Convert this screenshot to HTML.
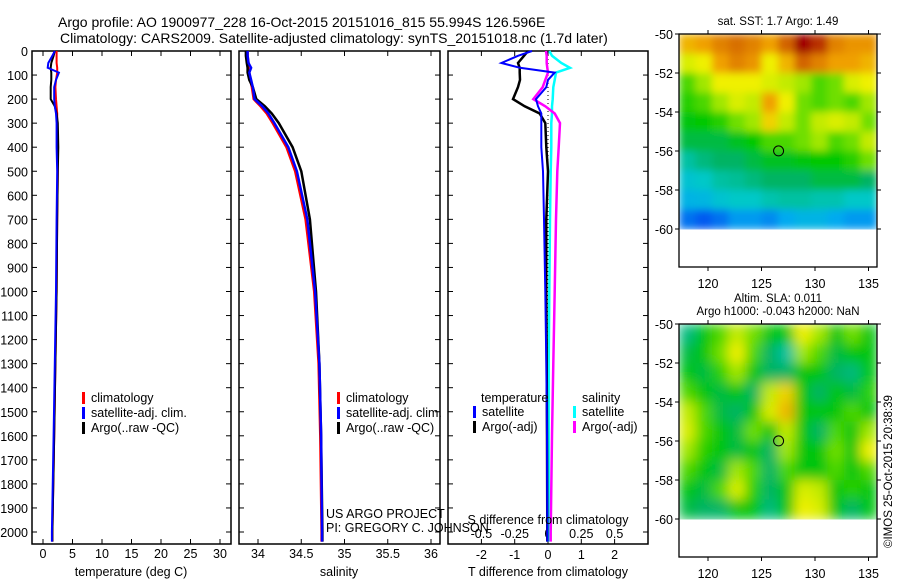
<!DOCTYPE html>
<html><head><meta charset="utf-8"><style>
body{margin:0;background:#fff}
svg{display:block;font-family:"Liberation Sans",sans-serif}
text{font-size:12.5px;fill:#000}
</style></head><body>
<svg id="c" width="900" height="580" viewBox="0 0 900 580">
<defs>
<filter id="blur1" x="0" y="0" width="1" height="1"><feGaussianBlur stdDeviation="4" edgeMode="duplicate"/></filter>
<filter id="blur2" x="0" y="0" width="1" height="1"><feGaussianBlur stdDeviation="6" edgeMode="duplicate"/></filter>
</defs>
<text x="58" y="27" style="font-size:14px">Argo profile: AO 1900977_228 16-Oct-2015 20151016_815 55.994S 126.596E</text>
<text x="60" y="43" style="font-size:14px">Climatology: CARS2009. Satellite-adjusted climatology: synTS_20151018.nc (1.7d later)</text>
<g id="g"></g>
</svg>
<script>
// ---------- data ----------
const depths = [0,20,50,70,90,120,150,200,230,260,300,400,500,700,1000,1300,1600,2000,2040];
const tempClim = [2.3,2.3,2.3,2.4,2.4,2.2,2.1,2.2,2.3,2.4,2.4,2.4,2.5,2.4,2.3,2.1,1.9,1.6,1.6];
const tempSat  = [2.0,1.6,0.9,0.8,2.7,2.2,1.9,1.9,2.0,2.2,2.3,2.3,2.4,2.3,2.2,2.0,1.8,1.5,1.5];
const tempArgo = [2.0,1.8,1.4,1.3,1.4,1.4,1.3,1.3,2.0,2.3,2.5,2.6,2.5,2.4,2.3,2.1,1.9,1.6,1.6];
const salClim = [33.88,33.88,33.89,33.89,33.90,33.91,33.93,33.95,34.03,34.10,34.17,34.33,34.43,34.55,34.65,34.70,34.72,34.735,34.735];
const salSat  = [33.88,33.88,33.89,33.92,33.90,33.92,33.94,33.96,34.05,34.12,34.19,34.35,34.45,34.57,34.66,34.71,34.73,34.74,34.74];
const salArgo = [33.86,33.86,33.87,33.88,33.88,33.90,33.94,33.98,34.08,34.16,34.24,34.40,34.50,34.60,34.67,34.71,34.73,34.745,34.745];
const tDiffSat  = [-0.48,-0.9,-1.4,-0.84,0.2,0.0,-0.05,-0.36,-0.3,-0.2,-0.2,-0.2,-0.15,-0.12,-0.08,-0.05,-0.03,-0.02,-0.02];
const tDiffArgo = [-0.6,-0.72,-0.9,-0.85,-0.85,-0.84,-0.9,-1.05,-0.7,-0.25,-0.08,-0.05,0.0,-0.05,-0.05,-0.04,-0.03,-0.02,-0.02];
const sDiffArgo = [-0.015,-0.01,-0.01,-0.005,0.0,-0.02,-0.04,-0.11,-0.02,0.05,0.09,0.08,0.07,0.06,0.05,0.04,0.03,0.02,0.02];
const sDiffSat  = [0.01,0.03,0.1,0.165,0.06,0.05,0.04,0.035,0.03,0.03,0.025,0.025,0.02,0.015,0.01,0.005,0.005,0.005,0.005];
const depthTicks = [0,100,200,300,400,500,600,700,800,900,1000,1100,1200,1300,1400,1500,1600,1700,1800,1900,2000];
const tempTicks = [0,5,10,15,20,25,30];
const salTicks = [34,34.5,35,35.5,36];
const tDiffTicks = [-2,-1,0,1,2];
const sDiffTicks = [-0.5,-0.25,0,0.25,0.5];
const sDiffLabels = ["-0.5","-0.25","0","0.25","0.5"];
const lonTicks = [120,125,130,135];
const latTicks = [-50,-52,-54,-56,-58,-60];
const sstGrid = [
[0.78,0.8,0.85,0.88,0.85,0.8,0.9,1.0,0.95,0.85,0.82,0.82],
[0.7,0.72,0.8,0.85,0.82,0.72,0.78,0.9,0.85,0.8,0.8,0.78],
[0.6,0.65,0.72,0.72,0.72,0.7,0.68,0.65,0.6,0.62,0.7,0.72],
[0.58,0.6,0.65,0.7,0.68,0.8,0.72,0.62,0.6,0.62,0.6,0.65],
[0.55,0.56,0.58,0.62,0.65,0.75,0.68,0.62,0.68,0.7,0.68,0.62],
[0.52,0.52,0.52,0.54,0.56,0.6,0.6,0.62,0.65,0.6,0.62,0.68],
[0.45,0.48,0.5,0.5,0.52,0.54,0.54,0.55,0.56,0.56,0.58,0.62],
[0.4,0.42,0.45,0.46,0.48,0.5,0.5,0.5,0.52,0.52,0.52,0.5],
[0.35,0.36,0.4,0.42,0.42,0.44,0.45,0.45,0.44,0.44,0.42,0.42],
[0.25,0.22,0.25,0.3,0.3,0.28,0.32,0.35,0.35,0.32,0.3,0.3]];
const slaGrid = [
[0.48,0.55,0.6,0.68,0.62,0.55,0.55,0.72,0.65,0.55,0.62,0.55],
[0.52,0.55,0.62,0.72,0.6,0.5,0.45,0.65,0.6,0.52,0.55,0.55],
[0.55,0.52,0.58,0.65,0.55,0.5,0.5,0.55,0.55,0.5,0.48,0.55],
[0.6,0.55,0.52,0.55,0.5,0.68,0.75,0.55,0.5,0.55,0.52,0.58],
[0.68,0.6,0.52,0.5,0.55,0.7,0.78,0.55,0.55,0.55,0.6,0.55],
[0.7,0.6,0.55,0.52,0.62,0.55,0.68,0.55,0.5,0.6,0.55,0.65],
[0.65,0.58,0.55,0.52,0.55,0.5,0.65,0.55,0.55,0.62,0.55,0.72],
[0.6,0.55,0.52,0.65,0.6,0.5,0.6,0.55,0.55,0.6,0.55,0.6],
[0.55,0.52,0.6,0.7,0.58,0.5,0.55,0.7,0.68,0.55,0.58,0.55],
[0.52,0.5,0.5,0.55,0.55,0.48,0.55,0.72,0.7,0.55,0.5,0.55]];
const floatLon = 126.596, floatLat = -55.994;

// ---------- helpers ----------
const NS="http://www.w3.org/2000/svg", G=document.getElementById('g');
function mk(tag, attrs, parent){const e=document.createElementNS(NS,tag);for(const k in attrs)e.setAttribute(k,attrs[k]);(parent||G).appendChild(e);return e;}
function txt(x,y,s,anchor,extra){const t=mk('text',Object.assign({x:x,y:y,'text-anchor':anchor||'start'},extra||{}));t.textContent=s;return t;}
const TOP=51, BOT=544;
const yD = d => 51 + d*0.2405;
function panel(x0,x1,name){
  const r=mk('rect',{x:x0,y:TOP,width:x1-x0,height:BOT-TOP,fill:'none',stroke:'#000','stroke-width':1.5});
  
  
  depthTicks.forEach(d=>{mk('line',{x1:x0,x2:x0+5,y1:yD(d),y2:yD(d),stroke:'#000'});mk('line',{x1:x1-5,x2:x1,y1:yD(d),y2:yD(d),stroke:'#000'});});
}
function xticks(xf,ticks,labels,x0,x1,ly,name){
  ticks.forEach((v,i)=>{const x=xf(v);mk('line',{x1:x,x2:x,y1:TOP,y2:TOP+5,stroke:'#000'});mk('line',{x1:x,x2:x,y1:BOT-5,y2:BOT,stroke:'#000'});
    const t=txt(x,ly,labels?labels[i]:String(v),'middle');
    
    });
}
function profile(vals,xf,color,w,name){
  const p=mk('polyline',{points:vals.map((v,i)=>xf(v).toFixed(1)+','+yD(depths[i]).toFixed(1)).join(' '),fill:'none',stroke:color,'stroke-width':w});
  
  
}
function legend(x,y,items){
  items.forEach((it,i)=>{mk('rect',{x:x,y:y+i*15-10,width:3,height:12,fill:it[1]});
    const t=txt(x+9,y+i*15,it[0]);
    
    });
}

depthTicks.forEach(d=>{const t=txt(28,yD(d)+5,String(d),'end');
  
  });

// ---------- panel 1: temperature ----------
const xT = v => 43 + v*5.9;
panel(32,231,'temperature-panel');
xticks(xT,tempTicks,null,32,231,558,'temperature-tick-label');
profile(tempClim,xT,'#f00',2,'temperature-climatology-line');
profile(tempArgo,xT,'#000',2,'temperature-argo-line');
profile(tempSat,xT,'#00f',2,'temperature-satellite-line');
let a=txt(131,576,'temperature (deg C)','middle');
legend(82,402,[['climatology','#f00'],['satellite-adj. clim.','#00f'],['Argo(..raw -QC)','#000']]);

// ---------- panel 2: salinity ----------
const xS = v => 258 + (v-34)*86.5;
panel(239,440,'salinity-panel');
xticks(xS,salTicks,null,239,440,558,'salinity-tick-label');
profile(salClim,xS,'#f00',2.5,'salinity-climatology-line');
profile(salArgo,xS,'#000',2.5,'salinity-argo-line');
profile(salSat,xS,'#00f',2.5,'salinity-satellite-line');
a=txt(339,576,'salinity','middle');
legend(337,402,[['climatology','#f00'],['satellite-adj. clim.','#00f'],['Argo(..raw -QC)','#000']]);
a=txt(326,518,'US ARGO PROJECT');
a=txt(326,532,'PI: GREGORY C. JOHNSON');

// ---------- panel 3: differences ----------
const xTd = v => 548 + v*33.3;
const xSd = v => 548 + v*133.2;
panel(448,648,'difference-panel');
xticks(xTd,tDiffTicks,null,448,648,559,'t-diff-tick-label');
sDiffTicks.forEach((v,i)=>{const t=txt(xSd(v),538,sDiffLabels[i],'middle');});
mk('line',{x1:548,x2:548,y1:TOP,y2:BOT,stroke:'#000','stroke-dasharray':'1,3'});
profile(sDiffSat,xSd,'#0ff',2.5,'salinity-diff-satellite-line');
profile(sDiffArgo,xSd,'#f0f',2.5,'salinity-diff-argo-line');
profile(tDiffArgo,xTd,'#000',2.5,'temperature-diff-argo-line');
profile(tDiffSat,xTd,'#00f',2,'temperature-diff-satellite-line');
a=txt(481,402,'temperature');
a=txt(582,402,'salinity');
legend(473,416,[['satellite','#00f'],['Argo(-adj)','#000']]);
legend(573,416,[['satellite','#0ff'],['Argo(-adj)','#f0f']]);
a=txt(548,524,'S difference from climatology','middle');
a=txt(548,576,'T difference from climatology','middle');

// ---------- maps ----------
const stops=[[0.1,[0,30,200]],[0.22,[0,90,240]],[0.32,[0,170,240]],[0.42,[0,200,200]],[0.5,[0,180,100]],[0.56,[0,200,0]],[0.64,[150,230,0]],[0.72,[240,240,0]],[0.8,[240,160,0]],[0.9,[210,100,0]],[1.0,[160,0,0]]];
function cmap(v){for(let i=1;i<stops.length;i++){if(v<=stops[i][0]){const [a0,c0]=stops[i-1],[a1,c1]=stops[i];const f=Math.max(0,(v-a0)/(a1-a0));return 'rgb('+c0.map((c,k)=>Math.round(c+(c1[k]-c)*f)).join(',')+')';}}return 'rgb(160,0,0)';}
function map(top,grid,name,title1,title2,blur){
  const L=679,R=877,B=top+233;
  const xL = lon => 708 + (lon-120)*10.7;
  const yL = lat => top + (-50-lat)*19.5;
  const nr=grid.length,nc=grid[0].length,cw=(R-L)/nc,ch=(yL(-60)-top)/nr;
  const cg=mk('g',{filter:'url(#'+blur+')'});
  
  
  grid.forEach((row,i)=>row.forEach((v,j)=>{const c=mk('rect',{x:L+j*cw,y:top+i*ch,width:cw+0.5,height:ch+0.5,fill:cmap(v)},cg);
    
    }));
  const fr=mk('rect',{x:L,y:top,width:R-L,height:B-top,fill:'none',stroke:'#000','stroke-width':1.3});
  
  
  lonTicks.forEach(v=>{mk('line',{x1:xL(v),x2:xL(v),y1:top-4,y2:top,stroke:'#000'});mk('line',{x1:xL(v),x2:xL(v),y1:B,y2:B+4,stroke:'#000'});
    const t=txt(xL(v),B+21,String(v),'middle');});
  latTicks.forEach(v=>{mk('line',{x1:L-4,x2:L,y1:yL(v),y2:yL(v),stroke:'#000'});mk('line',{x1:R,x2:R+4,y1:yL(v),y2:yL(v),stroke:'#000'});
    const t=txt(L-6,yL(v)+5,String(v),'end');});
  const m=mk('circle',{cx:xL(floatLon),cy:yL(floatLat),r:5,fill:'none',stroke:'#000'});
  
  
  let t=txt(778,top-9,title1,'middle',{style:'font-size:11.5px'});
  if(title2){t=txt(778,top-22,title2,'middle',{style:'font-size:11.5px'});}
}
map(34,sstGrid,'sst-map','sat. SST: 1.7 Argo: 1.49',null,'blur1');
map(324,slaGrid,'sla-map','Argo h1000: -0.043 h2000: NaN','Altim. SLA: 0.011','blur2');
a=txt(0,0,'©IMOS 25-Oct-2015 20:38:39','start',{transform:'translate(892,548) rotate(-90)',style:'font-size:11.5px'});

</script>
</body></html>
